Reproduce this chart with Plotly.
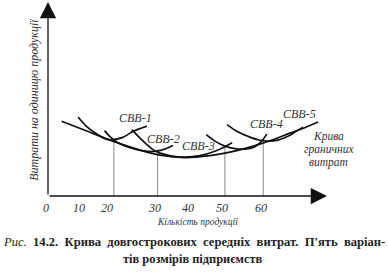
import plotly.graph_objects as go

# ---- data ----
lrac_x = [3.8, 10.3, 18.1, 25.7, 31.3, 38.2, 45.2, 50.8, 56.4, 62.0, 67.5, 71.7, 75.4]
lrac_y = [38.5, 33.9, 28.3, 23.7, 21.1, 19.8, 20.8, 22.6, 25.2, 28.5, 32.4, 35.2, 38.1]

srac1_x = [8.4, 10.6, 13.1, 15.6, 17.3, 20.7, 23.7, 27.6]
srac1_y = [40.7, 36.2, 32.6, 29.8, 29.0, 30.1, 33.2, 36.0]

srac2_x = [15.8, 17.3, 19.5, 22.9, 27.1, 30.4, 32.7, 34.9]
srac2_y = [33.7, 30.6, 27.5, 24.9, 23.1, 23.1, 24.2, 26.0]

srac3_x = [23.4, 25.7, 27.6, 29.3, 31.3, 34.6, 38.2, 42.4, 46.6, 49.4, 51.4]
srac3_y = [34.2, 29.8, 26.5, 23.9, 22.1, 20.6, 20.1, 20.8, 23.1, 25.4, 27.4]

srac4_x = [44.2, 46.6, 49.4, 52.2, 55.0, 57.5, 59.4, 61.1]
srac4_y = [31.6, 28.3, 25.7, 24.4, 24.2, 25.2, 27.8, 31.9]

srac5_x = [50.0, 52.7, 55.8, 58.6, 61.4, 64.2, 67.0, 69.2, 71.2]
srac5_y = [36.8, 33.4, 30.8, 29.0, 28.3, 28.8, 30.8, 33.2, 35.5]

guide_x = [18.4, 30.6, 49.4, 60.1]
guide_top = [29.4, 23.9, 25.6, 29.0]

tick_pos = [-0.6, 8.7, 16.5, 29.6, 39.1, 48.6, 59.4]
tick_text = ["0", "10", "20", "30", "40", "50", "60"]

curve_labels = ["СВВ-1", "СВВ-2", "СВВ-3", "СВВ-4", "СВВ-5"]
label_x = [24.3, 32.2, 41.9, 61.0, 70.3]
label_y = [40.2, 29.4, 25.9, 37.1, 42.4]

mc_label_lines = ["Крива", "граничних", "витрат"]

X_MAX = 77.9
Y_MAX = 100

SERIF = "Liberation Serif"
INK = "#111111"
TXT = "#333333"

fig = go.Figure()

# guide lines
for gx, gt in zip(guide_x, guide_top):
    fig.add_trace(go.Scatter(x=[gx, gx], y=[0, gt], mode="lines",
                             line=dict(color="#8a8a8a", width=1),
                             hoverinfo="skip", showlegend=False))

for xs, ys in [(lrac_x, lrac_y), (srac1_x, srac1_y), (srac2_x, srac2_y),
               (srac3_x, srac3_y), (srac4_x, srac4_y), (srac5_x, srac5_y)]:
    fig.add_trace(go.Scatter(x=xs, y=ys, mode="lines",
                             line=dict(color=INK, width=1.7, shape="spline", smoothing=1.0),
                             hoverinfo="skip", showlegend=False))

ann = []
# axis arrows
ann.append(dict(x=X_MAX, y=0, ax=0, ay=0, xref="x", yref="y", axref="x", ayref="y",
                showarrow=True, arrowhead=2, arrowsize=2.5, arrowwidth=1.3,
                arrowcolor=INK, text=""))
ann.append(dict(x=0, y=Y_MAX, ax=0, ay=0, xref="x", yref="y", axref="x", ayref="y",
                showarrow=True, arrowhead=2, arrowsize=2.5, arrowwidth=1.3,
                arrowcolor=INK, text=""))

# tick labels
for tp, tt in zip(tick_pos, tick_text):
    ann.append(dict(x=(tp * 3.583) / 279.0, y=0, xref="paper", yref="paper",
                    yshift=-11.5, yanchor="middle", xanchor="center",
                    text=tt, showarrow=False,
                    font=dict(family=SERIF, size=12, color=TXT, style="italic")))

for t, lx, ly in zip(curve_labels, label_x, label_y):
    ann.append(dict(x=lx, y=ly, xref="x", yref="y", text=t, showarrow=False,
                    font=dict(family=SERIF, size=12, color=TXT, style="italic")))

for i, line in enumerate(mc_label_lines):
    ann.append(dict(x=1.007, y=(196.5 - (136.5 + 13.3 * i)) / 194.5,
                    xref="paper", yref="paper", xanchor="center", yanchor="middle",
                    text=line, showarrow=False,
                    font=dict(family=SERIF, size=11.5, color=TXT, style="italic")))

# axis titles
ann.append(dict(x=0, y=(196.5 - 100) / 194.5, xref="x", yref="paper", xshift=-14,
                textangle=-90, yanchor="middle",
                text="Витрати на одиницю продукції", showarrow=False,
                font=dict(family=SERIF, size=12, color=TXT, style="italic")))
ann.append(dict(x=(198 - 48) / 279.0, y=-26.5 / 194.5, xref="paper", yref="paper",
                yanchor="middle", xanchor="center",
                text="Кількість продукції", showarrow=False,
                font=dict(family=SERIF, size=9.5, color=TXT, style="italic")))

# caption
sp = " &nbsp;"
cap1 = ("<i>Рис.</i>" + sp + "<b>14.2." + sp + "Крива" + sp + "довгострокових" + sp +
        "середніх" + sp + "витрат." + sp + "П'ять" + sp + "варіан-</b>")
ann.append(dict(x=(194 - 48) / 279.0, y=-(243 - 196.5) / 194.5, xref="paper", yref="paper",
                yanchor="middle", xanchor="center",
                text=cap1, showarrow=False,
                font=dict(family=SERIF, size=12.6, color="#222222")))
ann.append(dict(x=(193 - 48) / 279.0, y=-(260 - 196.5) / 194.5, xref="paper", yref="paper",
                yanchor="middle", xanchor="center",
                text="<b>тів розмірів підприємств</b>", showarrow=False,
                font=dict(family=SERIF, size=12.4, color="#222222")))

fig.update_layout(
    width=388, height=276,
    margin=dict(l=48, r=61, t=2, b=79.5),
    paper_bgcolor="white", plot_bgcolor="white",
    annotations=ann,
    xaxis=dict(range=[0, X_MAX], showgrid=False, zeroline=False, showline=False,
               showticklabels=False, ticks="", fixedrange=True),
    yaxis=dict(range=[0, Y_MAX], showgrid=False, zeroline=False, showline=False,
               showticklabels=False, ticks="", fixedrange=True),
)

fig.write_html("out.html")
